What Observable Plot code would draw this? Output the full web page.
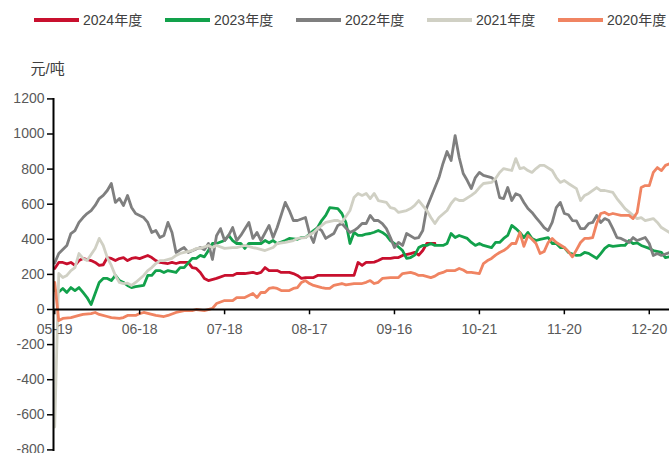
<!DOCTYPE html>
<html><head><meta charset="utf-8">
<script src="https://cdn.jsdelivr.net/npm/d3@7"></script>
<script src="https://cdn.jsdelivr.net/npm/@observablehq/plot@0.6"></script>
<style>
body{margin:0;background:#fff;font-family:'Liberation Sans','Noto Sans CJK SC',sans-serif;}
#wrap{position:relative;width:669px;height:453px;overflow:hidden;}
#legend{position:absolute;left:0;top:10px;height:20px;width:669px;font-size:14px;color:#404040;}
.item{position:absolute;top:0;height:20px;line-height:20px;white-space:nowrap;}
.sw{display:inline-block;width:45px;height:4px;vertical-align:middle;margin-right:4px;position:relative;top:-1px;}
</style></head>
<body><div id="wrap"><div id="chart"></div><div id="legend"></div></div>
<script>
const years = ["2024年度","2023年度","2022年度","2021年度","2020年度"];
const colors = ["#c8102e","#12a14b","#7f7f7f","#d0d0c4","#f08462"];
const tickIdx = [0,21,42,63,84,105,126,147];
const tickLabels = ["05-19","06-18","07-18","08-17","09-16","10-21","11-20","12-20"];
const yTicks = [-800,-600,-400,-200,0,200,400,600,800,1000,1200];

// [trading-day index, 元/吨]
const s2024 = [[0,234],[1,268],[2,268],[3,260],[4,268],[5,251],[6,279],[7,291],[8,285],[9,279],[10,268],[11,251],[12,255],[13,296],[14,291],[15,279],[16,290],[17,296],[18,279],[19,291],[20,296],[21,290],[23,308],[24,296],[25,279],[26,268],[28,262],[29,268],[30,262],[31,268],[33,268],[34,239],[35,234],[36,211],[37,177],[38,165],[40,177],[42,194],[44,194],[45,205],[47,205],[49,211],[50,205],[51,211],[52,239],[53,222],[55,222],[56,211],[58,211],[59,205],[60,194],[61,177],[62,182],[64,182],[65,194],[66,194],[67,194],[69,194],[71,194],[72,194],[74,194],[75,268],[76,251],[77,268],[78,268],[79,270],[80,279],[81,291],[83,291],[84,296],[85,296],[86,308],[88,319],[89,325],[90,310],[91,336],[92,376],[93,376],[94,376]];
const s2023 = [[0,108],[1,100],[2,120],[3,97],[4,125],[5,108],[6,125],[7,97],[8,68],[9,28],[10,91],[11,154],[12,177],[13,177],[14,165],[15,194],[16,165],[17,154],[18,137],[19,125],[20,130],[22,137],[23,194],[24,194],[25,222],[26,222],[27,211],[28,222],[30,211],[31,239],[32,239],[34,291],[35,291],[36,308],[37,300],[38,336],[39,376],[40,376],[42,393],[43,422],[44,393],[45,376],[46,376],[47,348],[48,376],[51,376],[52,393],[53,380],[54,393],[55,376],[57,393],[58,405],[60,400],[61,410],[62,410],[64,450],[65,467],[66,507],[67,536],[68,581],[70,575],[71,547],[72,496],[73,376],[74,439],[75,422],[76,422],[77,430],[78,433],[79,440],[80,450],[81,439],[82,422],[83,393],[84,376],[86,336],[87,291],[88,296],[89,310],[90,353],[91,365],[92,365],[93,376],[94,365],[96,365],[97,376],[98,433],[99,410],[100,422],[102,405],[103,382],[104,365],[105,376],[106,365],[108,353],[109,382],[110,382],[111,405],[112,422],[113,479],[114,461],[115,439],[116,410],[117,439],[118,405],[119,393],[120,400],[122,410],[123,376],[124,376],[125,353],[126,353],[127,325],[129,308],[130,310],[131,325],[132,320],[134,291],[135,319],[136,348],[137,365],[138,360],[140,365],[141,365],[142,393],[143,376],[144,380],[145,365],[147,348],[148,336],[150,325],[151,296],[152,300]];
const s2022 = [[0,265],[1,319],[3,365],[4,433],[5,450],[6,496],[7,524],[8,547],[9,564],[10,593],[11,632],[12,650],[13,678],[14,718],[15,610],[16,632],[17,593],[18,650],[19,581],[20,547],[22,524],[23,496],[24,439],[25,450],[26,410],[27,422],[28,496],[29,439],[30,325],[31,340],[32,353],[33,325],[35,345],[36,353],[37,340],[38,376],[39,285],[40,420],[41,461],[42,393],[43,422],[44,467],[45,393],[46,422],[48,496],[49,405],[50,439],[51,393],[53,479],[54,410],[55,467],[57,610],[58,564],[59,507],[60,507],[62,524],[63,433],[64,382],[65,467],[66,450],[67,405],[69,433],[70,479],[71,490],[73,439],[74,450],[75,467],[76,490],[77,490],[78,536],[79,507],[80,507],[81,490],[82,461],[83,410],[84,353],[85,382],[86,365],[87,433],[89,405],[90,410],[91,450],[92,581],[93,638],[95,752],[96,832],[97,900],[98,849],[99,991],[100,866],[101,775],[102,735],[103,689],[104,752],[105,781],[106,764],[108,752],[109,735],[110,638],[111,632],[112,695],[113,621],[114,660],[115,650],[116,610],[117,575],[118,553],[119,524],[120,496],[121,467],[122,450],[123,496],[124,581],[125,610],[126,547],[127,540],[128,507],[129,505],[130,461],[131,461],[132,490],[133,496],[134,536],[135,496],[136,518],[137,507],[138,461],[139,410],[140,405],[142,382],[143,410],[144,393],[146,410],[147,376],[148,308],[149,319],[150,308],[152,325]];
const s2021 = [[0,-670],[1,205],[2,182],[3,194],[4,222],[5,239],[6,319],[7,291],[8,279],[10,348],[11,405],[12,365],[13,296],[14,251],[15,194],[16,154],[17,148],[18,150],[19,137],[20,154],[22,194],[23,222],[24,239],[25,262],[26,279],[27,279],[29,291],[30,308],[31,319],[32,325],[34,336],[35,348],[36,348],[38,365],[39,353],[40,365],[42,348],[44,353],[45,353],[47,365],[49,353],[50,348],[52,336],[54,353],[55,376],[57,382],[59,393],[60,405],[62,410],[64,439],[65,461],[67,496],[69,507],[70,507],[71,496],[73,564],[74,638],[75,661],[76,650],[77,661],[78,632],[79,661],[80,621],[82,610],[83,581],[84,575],[85,553],[87,564],[88,575],[89,593],[90,621],[92,564],[93,524],[94,490],[95,524],[97,564],[98,604],[99,632],[100,621],[101,621],[103,650],[104,667],[105,695],[106,718],[108,724],[109,746],[110,781],[111,803],[113,792],[114,860],[115,803],[116,809],[117,792],[118,781],[119,803],[120,821],[121,821],[123,792],[124,752],[125,724],[126,735],[127,718],[129,689],[130,621],[131,650],[132,661],[134,695],[135,678],[136,678],[138,667],[139,632],[140,604],[141,575],[143,536],[144,518],[145,524],[146,507],[148,518],[149,496],[150,467],[152,439]];
const s2020 = [[0,154],[1,-63],[2,-51],[4,-46],[6,-34],[7,-28],[9,-23],[10,-17],[11,-28],[13,-40],[14,-46],[16,-51],[17,-46],[18,-34],[20,-34],[21,-23],[22,-17],[24,-28],[25,-34],[27,-40],[28,-34],[30,-17],[32,-6],[34,-6],[35,0],[37,-6],[39,6],[40,34],[42,51],[44,51],[45,68],[47,68],[49,91],[50,68],[51,97],[52,97],[53,120],[54,125],[55,120],[56,108],[58,108],[59,120],[60,125],[61,154],[62,165],[63,148],[64,137],[66,125],[67,120],[68,120],[69,137],[71,148],[72,140],[74,148],[75,148],[76,148],[77,155],[78,165],[79,148],[80,155],[81,177],[83,182],[84,182],[85,182],[86,205],[88,211],[89,205],[90,194],[91,194],[93,182],[94,190],[95,205],[96,211],[97,222],[99,222],[100,234],[101,225],[102,211],[103,211],[105,205],[106,262],[107,279],[108,291],[109,310],[110,325],[111,336],[112,353],[113,376],[114,376],[115,439],[116,360],[117,422],[118,400],[119,376],[120,319],[121,330],[122,382],[123,405],[124,382],[126,353],[127,330],[128,300],[129,340],[130,382],[131,405],[132,405],[133,410],[134,490],[135,547],[136,553],[137,540],[138,547],[140,536],[142,536],[143,518],[144,553],[145,695],[146,706],[147,706],[148,781],[149,809],[150,792],[151,821],[152,830]];

const seriesList = [s2024, s2023, s2022, s2021, s2020];
const rows = [];
seriesList.forEach((s, k) => s.forEach(([i, v]) => rows.push({year: years[k], i, v})));
const xticks = tickIdx.map((i, k) => ({i, label: tickLabels[k]}));

const chart = Plot.plot({
  width: 669, height: 453,
  marginTop: 98.4, marginBottom: 3.6, marginLeft: 53, marginRight: 0,
  style: {fontFamily: "'Liberation Sans','Noto Sans CJK SC',sans-serif", fontSize: "14px", background: "#fff"},
  x: {domain: [-0.3, 152], axis: null},
  y: {domain: [-800, 1200], axis: null},
  color: {domain: years, range: colors},
  marks: [
    Plot.line(rows, {x: "i", y: "v", z: "year", stroke: "year", strokeWidth: 2.8, clip: true, strokeLinejoin: "round"}),
    Plot.ruleY([0], {stroke: "#000", strokeWidth: 2}),
    Plot.ruleX(xticks, {x: "i", y1: 0, y2: -30, stroke: "#000", strokeWidth: 1.5}),
    Plot.text(xticks, {x: "i", y: 0, text: "label", dy: 20, fill: "#595959", fontSize: 14}),
    Plot.axisY(yTicks, {tickSize: 6, tickPadding: 3, stroke: "#000", fill: "#595959", strokeWidth: 1.5, fontSize: 14, label: null, tickFormat: d => String(d)}),
    Plot.frame({anchor: "left", stroke: "#000", strokeWidth: 2}),
    Plot.text(["元/吨"], {frameAnchor: "top-left", dx: -23, dy: -36, fill: "#404040", fontSize: 15})
  ]
});
document.getElementById("chart").appendChild(chart);

const leg = document.getElementById("legend");
years.forEach((y, k) => {
  const it = document.createElement("div");
  it.className = "item";
  it.style.left = (34 + 131 * k) + "px";
  const sw = document.createElement("span");
  sw.className = "sw";
  sw.style.background = colors[k];
  it.appendChild(sw);
  it.appendChild(document.createTextNode(y));
  leg.appendChild(it);
});
</script></body></html>
